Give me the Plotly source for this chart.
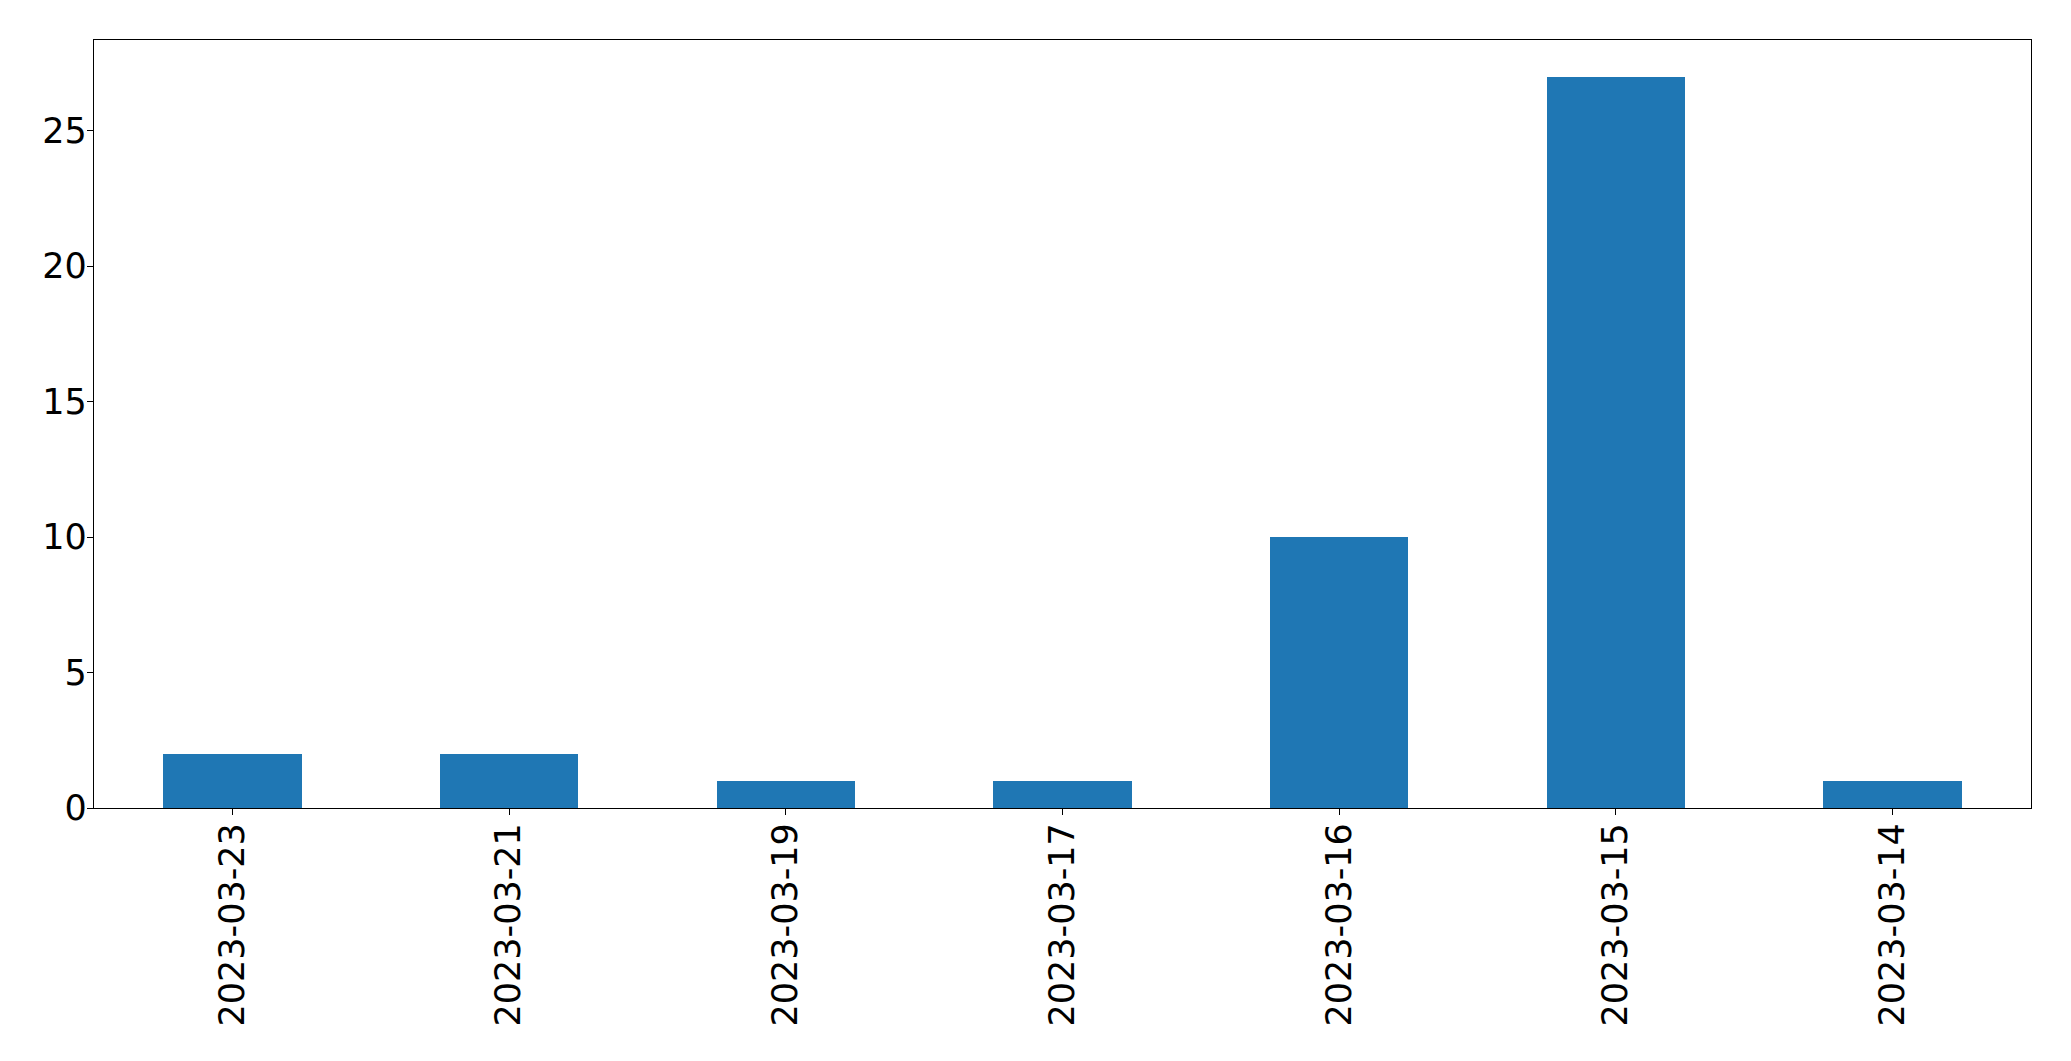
import plotly.graph_objects as go

dates = ["2023-03-23", "2023-03-21", "2023-03-19", "2023-03-17",
         "2023-03-16", "2023-03-15", "2023-03-14"]
counts = [2, 2, 1, 1, 10, 27, 1]
y_ticks = [0, 5, 10, 15, 20, 25]

fig = go.Figure()
fig.add_trace(go.Bar(x=dates, y=counts, width=0.5, marker_color="#1f77b4",
                     marker_line_width=0))

axis_common = dict(showline=True, mirror=True, linecolor="black", linewidth=1.3,
                   ticks="outside", ticklen=6, tickwidth=1.3, tickcolor="black",
                   showgrid=False, zeroline=False,
                   tickfont=dict(family="DejaVu Sans", size=35, color="black"))

fig.update_xaxes(type="category", range=[-0.5, 6.5], tickangle=-90,
                 ticklabelstandoff=-6, **axis_common)
fig.update_yaxes(range=[0, 28.35], tickvals=y_ticks, ticklabelstandoff=-7,
                 **axis_common)

fig.update_layout(width=2071, height=1061,
                  margin=dict(l=86, r=48, t=32, b=261),
                  paper_bgcolor="white", plot_bgcolor="white",
                  showlegend=False, bargap=0)

fig.write_html("out.html")
